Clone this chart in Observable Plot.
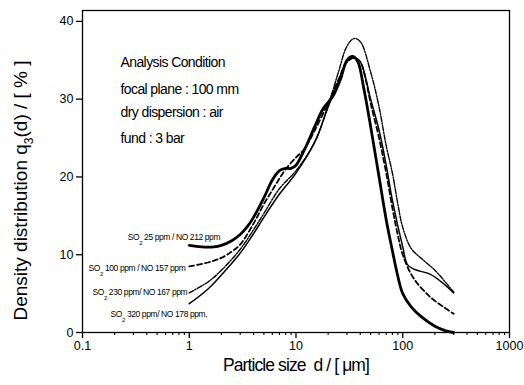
<!DOCTYPE html>
<html>
<head>
<meta charset="utf-8">
<script src="https://cdn.jsdelivr.net/npm/d3@7"></script>
<script src="https://cdn.jsdelivr.net/npm/@observablehq/plot@0.6"></script>
<style>
  html, body { margin: 0; padding: 0; background: #fff; }
  svg { font-family: "Liberation Sans", Arial, sans-serif; }
</style>
</head>
<body>
<div id="chart"></div>
<script>
// ---- data ----
const xA = [1, 1.3, 1.7, 2, 2.5, 3, 3.5, 4, 5, 6, 7, 8, 9, 10, 12, 15, 18, 22, 26, 30, 34, 38, 43, 50, 60, 70, 80, 90, 100, 120, 150, 200, 250, 300];
const yA = [11.2, 11.0, 11.0, 11.2, 11.8, 12.6, 13.6, 14.8, 17.3, 19.6, 20.8, 21.1, 21.1, 21.5, 23.5, 26.5, 28.8, 30.3, 32.5, 35.0, 35.5, 34.8, 31.5, 26.5, 20.0, 14.5, 10.5, 7.2, 5.0, 3.3, 2.0, 0.8, 0.25, 0];

const xB = [1, 1.5, 2, 2.5, 3, 4, 5, 6, 7, 8, 10, 12, 15, 20, 25, 30, 35, 40, 45, 50, 60, 70, 80, 90, 100, 126, 183, 240, 300];
const yB = [8.5, 9.0, 9.6, 10.4, 11.3, 14.0, 16.5, 18.3, 19.8, 21.0, 22.5, 23.6, 26.0, 29.5, 32.5, 34.8, 35.3, 34.8, 32.5, 29.5, 25.0, 20.5, 16.0, 12.5, 10.0, 7.0, 4.5, 3.3, 2.4];

const xC = [1, 1.5, 2, 3, 4, 5, 7, 10, 15, 20, 25, 30, 35, 40, 50, 60, 70, 80, 90, 100, 120, 150, 200, 250, 300];
const yC = [5.1, 6.5, 8.0, 10.7, 13.2, 15.3, 18.5, 20.8, 24.5, 29.2, 33.5, 36.8, 37.8, 37.4, 33.5, 29.0, 24.0, 20.5, 16.5, 13.5, 10.8, 9.5, 8.0, 6.5, 5.2];

const xD = [1, 1.5, 2, 3, 4, 5, 7, 10, 15, 20, 25, 30, 35, 40, 50, 60, 70, 80, 100, 111, 130, 180, 230, 300];
const yD = [3.7, 5.6, 7.4, 10.2, 12.7, 14.8, 17.8, 20.5, 24.5, 29.0, 32.3, 34.8, 35.3, 34.8, 30.0, 26.0, 21.5, 17.0, 11.0, 8.7, 8.1, 7.5, 6.5, 5.1];

const seriesNames = ["SO2 25 ppm / NO 212 ppm", "SO2 100 ppm / NO 157 ppm", "SO2 230 ppm/ NO 167 ppm", "SO2 320 ppm/ NO 178 ppm."];
const labelX = [0.265, 0.114, 0.124, 0.183];
const labelY = [12.2, 8.3, 5.2, 2.4];

const annotText = ["Analysis Condition", "focal plane : 100 mm", "dry dispersion : air", "fund : 3 bar"];
const annotX = 0.227;
const annotY = [34.7, 31.3, 28.3, 25.0];

const xTicks = [0.1, 1, 10, 100, 1000];
const yTicks = [0, 10, 20, 30, 40];
const xLabel = "Particle size  d / [ \u03bcm]";
const yLabel = "Density distribution q3(d) / [ % ]";

// ---- build ----
const toRows = (xs, ys) => xs.map((x, i) => ({x, y: ys[i]}));
const A = toRows(xA, yA), B = toRows(xB, yB), C = toRows(xC, yC), D = toRows(xD, yD);
const minorTicks = [];
for (const dec of [0.1, 1, 10, 100]) for (let k = 2; k <= 9; k++) minorTicks.push(+(dec * k).toPrecision(3));
const labels = seriesNames.map((t, i) => ({t, x: labelX[i], y: labelY[i]}));
const annots = annotText.map((t, i) => ({t, x: annotX, y: annotY[i]}));

const chart = Plot.plot({
  width: 524,
  height: 385,
  marginLeft: 82,
  marginRight: 15,
  marginTop: 10,
  marginBottom: 53,
  style: {fontFamily: "Liberation Sans, Arial, sans-serif", color: "black", background: "white"},
  x: {type: "log", domain: [0.1, 1000]},
  y: {domain: [0, 41.4]},
  marks: [
    Plot.frame({stroke: "black", strokeWidth: 1.3}),
    Plot.axisX(xTicks, {tickSize: 6, strokeWidth: 1.3, tickPadding: 3, fontSize: 12.5, tickFormat: d => String(d), label: null}),
    Plot.axisX(minorTicks, {tickSize: 3, strokeWidth: 1.1, tickFormat: () => "", label: null}),
    Plot.axisY(yTicks, {tickSize: 6, strokeWidth: 1.3, tickPadding: 3, fontSize: 12.5, label: null}),
    Plot.line(A, {x: "x", y: "y", stroke: "black", strokeWidth: 2.8, curve: "catmull-rom"}),
    Plot.line(B, {x: "x", y: "y", stroke: "black", strokeWidth: 1.8, strokeDasharray: "5,3", curve: "catmull-rom"}),
    Plot.line(C, {x: "x", y: "y", stroke: "black", strokeWidth: 1.4, strokeDasharray: "5,1.5,1.2,1.5", curve: "catmull-rom"}),
    Plot.line(D, {x: "x", y: "y", stroke: "black", strokeWidth: 1.5, curve: "catmull-rom"}),
    Plot.text(annots, {x: "x", y: "y", text: "t", textAnchor: "start", fontSize: 14, fill: "black"}),
    Plot.text(labels, {x: "x", y: "y", text: "t", textAnchor: "start", fontSize: 8.5, fill: "black"}),
    Plot.text([xLabel], {frameAnchor: "bottom", text: d => d, textAnchor: "middle", dy: 38, fontSize: 17.5, fill: "black"}),
    Plot.text([yLabel], {frameAnchor: "left", text: d => d, textAnchor: "middle", rotate: -90, dx: -62, dy: 19, fontSize: 19, fill: "black"})
  ]
});

document.getElementById("chart").appendChild(chart);

// subscripts and tight letter spacing like the scan
const svg = d3.select(chart);
svg.selectAll("text").each(function() {
  const el = d3.select(this);
  const s = el.text();
  if (s.startsWith("SO2 ")) {
    const rest = s.slice(3);
    el.text("");
    el.append("tspan").text("SO");
    el.append("tspan").attr("dy", 5).attr("font-size", 6).text("2");
    el.append("tspan").attr("dy", -5).text(rest);
    el.attr("letter-spacing", -0.4);
  } else if (s.includes("q3(d)")) {
    const [pre, post] = s.split("q3");
    el.text("");
    el.append("tspan").text(pre + "q");
    el.append("tspan").attr("dy", 6).attr("font-size", 12).text("3");
    el.append("tspan").attr("dy", -6).text(post);
  } else if (s === xLabel) {
    el.attr("letter-spacing", -0.9);
  } else if (annotText.includes(s)) {
    el.attr("letter-spacing", -0.6);
  }
});
</script>
</body>
</html>
